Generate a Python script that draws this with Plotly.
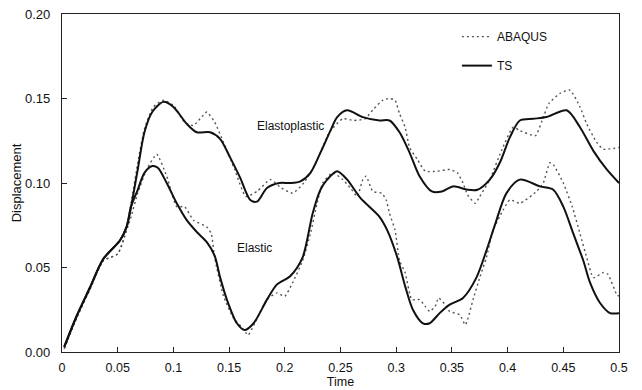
import plotly.graph_objects as go

# Elastoplastic, TS (solid)
ep_ts_t = [0.002, 0.013, 0.025, 0.037, 0.052, 0.058, 0.062, 0.068, 0.074, 0.081, 0.091, 0.100, 0.112, 0.121,
           0.133, 0.142, 0.151, 0.160, 0.169, 0.175, 0.184, 0.195, 0.205, 0.214, 0.223, 0.232, 0.241, 0.247,
           0.256, 0.270, 0.285, 0.294, 0.303, 0.312, 0.321, 0.332, 0.341, 0.351, 0.364, 0.373, 0.384, 0.393,
           0.402, 0.411, 0.423, 0.435, 0.453, 0.465, 0.477, 0.489, 0.500]
ep_ts_y = [0.003, 0.021, 0.038, 0.055, 0.066, 0.074, 0.086, 0.108, 0.130, 0.142, 0.148, 0.145, 0.135, 0.130,
           0.130, 0.126, 0.115, 0.103, 0.090, 0.089, 0.097, 0.100, 0.100, 0.101, 0.106, 0.118, 0.131, 0.139,
           0.143, 0.139, 0.137, 0.137, 0.130, 0.118, 0.104, 0.095, 0.095, 0.098, 0.096, 0.096, 0.102, 0.112,
           0.127, 0.137, 0.138, 0.139, 0.143, 0.133, 0.119, 0.108, 0.100]

# Elastoplastic, ABAQUS (dotted)
ep_ab_t = [0.002, 0.013, 0.025, 0.037, 0.050, 0.056, 0.062, 0.068, 0.074, 0.082, 0.091, 0.100, 0.110, 0.118,
           0.124, 0.130, 0.137, 0.145, 0.155, 0.165, 0.175, 0.187, 0.197, 0.207, 0.217, 0.228, 0.240, 0.252,
           0.262, 0.272, 0.280, 0.288, 0.294, 0.299, 0.303, 0.308, 0.312, 0.319, 0.326, 0.337, 0.348, 0.355,
           0.360, 0.364, 0.371, 0.375, 0.384, 0.395, 0.405, 0.411, 0.425, 0.431, 0.437, 0.447, 0.456, 0.465,
           0.471, 0.480, 0.486, 0.500]
ep_ab_y = [0.002, 0.020, 0.037, 0.054, 0.058, 0.068, 0.088, 0.112, 0.132, 0.145, 0.149, 0.146, 0.136, 0.134,
           0.138, 0.142, 0.136, 0.124, 0.108, 0.092, 0.095, 0.102, 0.097, 0.094, 0.100, 0.112, 0.130, 0.138,
           0.137, 0.138, 0.144, 0.149, 0.150, 0.149, 0.141, 0.133, 0.121, 0.114, 0.107, 0.107, 0.108, 0.106,
           0.100, 0.093, 0.088, 0.092, 0.102, 0.120, 0.133, 0.131, 0.128, 0.137, 0.147, 0.153, 0.155, 0.145,
           0.135, 0.124, 0.120, 0.121]

# Elastic, TS (solid)
el_ts_t = [0.002, 0.013, 0.025, 0.037, 0.052, 0.058, 0.062, 0.068, 0.074, 0.081, 0.086, 0.094, 0.103, 0.112,
           0.121, 0.130, 0.137, 0.142, 0.148, 0.157, 0.164, 0.172, 0.184, 0.193, 0.205, 0.216, 0.225, 0.232,
           0.238, 0.247, 0.256, 0.268, 0.285, 0.292, 0.301, 0.308, 0.315, 0.324, 0.330, 0.339, 0.348, 0.360,
           0.372, 0.381, 0.389, 0.399, 0.411, 0.429, 0.441, 0.450, 0.459, 0.468, 0.474, 0.483, 0.492, 0.500]
el_ts_y = [0.003, 0.021, 0.038, 0.055, 0.066, 0.074, 0.086, 0.096, 0.106, 0.110, 0.109, 0.100, 0.088, 0.078,
           0.071, 0.065, 0.057, 0.044, 0.031, 0.017, 0.013, 0.017, 0.031, 0.040, 0.045, 0.056, 0.082, 0.096,
           0.102, 0.107, 0.102, 0.091, 0.080, 0.072, 0.056, 0.039, 0.025, 0.017, 0.017, 0.023, 0.028, 0.032,
           0.044, 0.060, 0.076, 0.094, 0.102, 0.098, 0.096, 0.086, 0.070, 0.054, 0.041, 0.029, 0.023, 0.023]

# Elastic, ABAQUS (dotted)
el_ab_t = [0.002, 0.013, 0.025, 0.037, 0.050, 0.056, 0.062, 0.068, 0.076, 0.085, 0.094, 0.103, 0.110, 0.118,
           0.130, 0.134, 0.137, 0.145, 0.154, 0.161, 0.167, 0.173, 0.184, 0.193, 0.200, 0.207, 0.216, 0.223,
           0.229, 0.234, 0.243, 0.252, 0.259, 0.265, 0.270, 0.273, 0.279, 0.287, 0.291, 0.294, 0.299, 0.303,
           0.308, 0.314, 0.321, 0.326, 0.330, 0.335, 0.338, 0.344, 0.348, 0.357, 0.362, 0.364, 0.369, 0.375,
           0.381, 0.387, 0.396, 0.402, 0.411, 0.426, 0.432, 0.438, 0.441, 0.450, 0.458, 0.465, 0.471, 0.477,
           0.486, 0.490, 0.498, 0.500]
el_ab_y = [0.002, 0.020, 0.037, 0.054, 0.058, 0.068, 0.080, 0.094, 0.108, 0.117, 0.104, 0.086, 0.086, 0.078,
           0.074, 0.070, 0.056, 0.033, 0.020, 0.015, 0.010, 0.017, 0.031, 0.035, 0.033, 0.041, 0.054, 0.070,
           0.088, 0.100, 0.106, 0.102, 0.097, 0.092, 0.102, 0.104, 0.095, 0.094, 0.090, 0.082, 0.072, 0.054,
           0.047, 0.031, 0.031, 0.027, 0.024, 0.027, 0.032, 0.028, 0.024, 0.022, 0.016, 0.019, 0.031, 0.044,
           0.056, 0.072, 0.084, 0.090, 0.088, 0.095, 0.100, 0.112, 0.111, 0.100, 0.086, 0.070, 0.056, 0.044,
           0.047, 0.046, 0.034, 0.033]

x_tick_vals = [0, 0.05, 0.1, 0.15, 0.2, 0.25, 0.3, 0.35, 0.4, 0.45, 0.5]
x_tick_text = ["0", "0.05", "0.1", "0.15", "0.2", "0.25", "0.3", "0.35", "0.4", "0.45", "0.5"]
y_tick_vals = [0.0, 0.05, 0.10, 0.15, 0.20]
y_tick_text = ["0.00", "0.05", "0.10", "0.15", "0.20"]

FONT = "Liberation Sans, Arial, sans-serif"
solid = dict(color="#111111", width=2.0, shape="spline", smoothing=0.8)
dotted = dict(color="#555555", width=1.4, dash="2px,3px", shape="spline", smoothing=0.5)

fig = go.Figure()
fig.add_trace(go.Scatter(x=ep_ab_t, y=ep_ab_y, mode="lines", line=dotted, name="ABAQUS",
                         legendgroup="a", showlegend=True))
fig.add_trace(go.Scatter(x=el_ab_t, y=el_ab_y, mode="lines", line=dotted, name="ABAQUS",
                         legendgroup="a", showlegend=False))
fig.add_trace(go.Scatter(x=ep_ts_t, y=ep_ts_y, mode="lines", line=solid, name="TS",
                         legendgroup="b", showlegend=True))
fig.add_trace(go.Scatter(x=el_ts_t, y=el_ts_y, mode="lines", line=solid, name="TS",
                         legendgroup="b", showlegend=False))

fig.add_annotation(x=0.205, y=0.134, text="Elastoplastic", showarrow=False,
                   font=dict(family=FONT, size=12, color="#111"))
fig.add_annotation(x=0.173, y=0.0615, text="Elastic", showarrow=False,
                   font=dict(family=FONT, size=12, color="#111"))

fig.update_layout(
    width=642, height=390,
    margin=dict(l=62, r=23, t=14, b=38, autoexpand=False),
    paper_bgcolor="white", plot_bgcolor="white",
    font=dict(family=FONT, size=13, color="#111"),
    showlegend=True,
    legend=dict(x=0.709, y=0.976, xanchor="left", yanchor="top", bgcolor="rgba(0,0,0,0)",
                traceorder="grouped", tracegroupgap=10, font=dict(size=12, color="#111")),
    xaxis=dict(range=[0, 0.5], tickvals=x_tick_vals, ticktext=x_tick_text, ticks="inside",
               ticklen=5, tickcolor="#222", showline=True, linecolor="#222", linewidth=1.2,
               mirror=True, showgrid=False, zeroline=False, ticklabelstandoff=4,
               tickfont=dict(size=12.5),
               title=dict(text="Time", standoff=2, font=dict(size=12.5))),
    yaxis=dict(range=[0, 0.2], tickvals=y_tick_vals, ticktext=y_tick_text, ticks="inside",
               ticklen=5, tickcolor="#222", showline=True, linecolor="#222", linewidth=1.2,
               mirror=True, showgrid=False, zeroline=False, ticklabelstandoff=8,
               title=dict(text="Displacement", standoff=0, font=dict(size=13))),
)

fig.write_html("out.html", config={"displayModeBar": False},
               post_script="document.body.style.margin='0px';")
